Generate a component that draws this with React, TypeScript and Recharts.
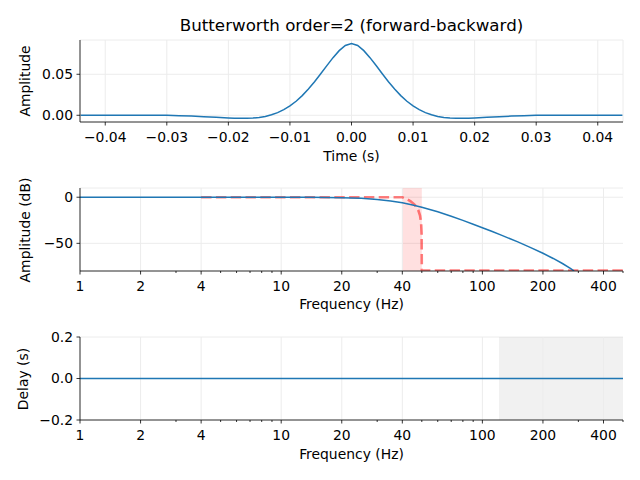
import React from "react"
import {
  CartesianGrid,
  ComposedChart,
  Line,
  ReferenceArea,
  ReferenceLine,
  XAxis,
  YAxis,
} from "recharts"

// impulse response (time in s, amplitude)
const impulseTime = [
  -0.044, -0.04, -0.036, -0.034, -0.032, -0.03, -0.028, -0.026, -0.024, -0.022, -0.02, -0.019, -0.018,
  -0.017, -0.016, -0.015, -0.014, -0.013, -0.012, -0.011, -0.01, -0.009, -0.008, -0.007, -0.006, -0.005,
  -0.004, -0.003, -0.002, -0.001, 0, 0.001, 0.002, 0.003, 0.004, 0.005, 0.006, 0.007, 0.008, 0.009, 0.01,
  0.011, 0.012, 0.013, 0.014, 0.015, 0.016, 0.017, 0.018, 0.019, 0.02, 0.022, 0.024, 0.026, 0.028, 0.03,
  0.032, 0.034, 0.036, 0.04, 0.044,
]
const impulseAmp = [
  0, 0, 0.0001, 0.0001, 0.0001, -0.0001, -0.0005, -0.001, -0.0017, -0.0025, -0.0033, -0.0036, -0.0037,
  -0.0037, -0.0034, -0.0026, -0.0014, 0.0006, 0.0032, 0.0069, 0.0114, 0.0171, 0.024, 0.032, 0.0409, 0.0506,
  0.0606, 0.0703, 0.0788, 0.0851, 0.0875, 0.0851, 0.0788, 0.0703, 0.0606, 0.0506, 0.0409, 0.032, 0.024,
  0.0171, 0.0114, 0.0069, 0.0032, 0.0006, -0.0014, -0.0026, -0.0034, -0.0037, -0.0037, -0.0036, -0.0033,
  -0.0025, -0.0017, -0.001, -0.0005, -0.0001, 0.0001, 0.0001, 0.0001, 0, 0,
]

// magnitude response (Hz, dB)
const respFreq = [1, 2, 4, 7, 10, 14, 20, 25, 30, 35, 40, 45, 50, 60, 70, 80, 90, 100, 112, 125, 150, 175, 200, 225, 250, 275, 286]
const respDb = [0, 0, 0, -0.01, -0.03, -0.13, -0.52, -1.22, -2.37, -3.99, -6.02, -8.34, -10.81, -15.85, -20.67, -25.14, -29.25, -33.02, -37.16, -41.33, -48.47, -54.88, -60.79, -66.4, -71.88, -77.36, -80]

// ideal (desired) response
const idealFreq = [4, 40, 42, 44, 46, 47, 48, 49, 49.6, 49.9, 50, 500]
const idealDb = [0, 0, -1.9, -4.4, -8.0, -10.5, -14, -20, -28, -40, -79.5, -79.5]

// group delay (Hz, s)
const delayFreq = [1, 500]
const delaySec = [0, 0]

const transBand = [40, 50]
const delayShade = [121, 500]

const timeTicks = [-0.04, -0.03, -0.02, -0.01, 0, 0.01, 0.02, 0.03, 0.04]
const ampTicks = [0, 0.05]
const freqMajor = [1, 2, 4, 10, 20, 40, 100, 200, 400]
const freqMinor = [3, 5, 6, 7, 8, 9, 30, 50, 60, 70, 80, 90, 300, 500]
const dbTicks = [-50, 0]
const delayTicks = [-0.2, 0, 0.2]

const impulseData = impulseTime.map((t, i) => ({ t, v: impulseAmp[i] }))
const respData = respFreq.map((f, i) => ({ f, v: respDb[i] }))
const idealData = idealFreq.map((f, i) => ({ f, v: idealDb[i] }))
const delayData = delayFreq.map((f, i) => ({ f, v: delaySec[i] }))
const freqTicks = [...freqMajor, ...freqMinor].sort((a, b) => a - b)

const FONT = "DejaVu Sans, sans-serif"
const FS = 13.9
const BLUE = "#1f77b4"
const GRID = "#ececec"
const tickStyle = { fill: "#000", fontSize: FS, fontFamily: FONT }

const minus = (s: string) => s.replace("-", "\u2212")

function TimeTick(props: any) {
  const { x, y, payload } = props
  return (
    <text x={x} y={y} dy="0.93em" textAnchor="middle" {...tickStyle}>
      {minus(payload.value.toFixed(2))}
    </text>
  )
}

function LogTick(props: any) {
  const { x, y, payload } = props
  const major = freqMajor.includes(payload.value)
  return (
    <g>
      <line x1={x} x2={x} y1={y} y2={y + (major ? 3.5 : 2)} stroke="#000" strokeWidth={0.8} />
      {major && (
        <text x={x} y={y + 7} dy="0.93em" textAnchor="middle" {...tickStyle}>
          {payload.value}
        </text>
      )}
    </g>
  )
}

function Overlay({ x, y, text, rotate, size }: { x: number; y: number; text: string; rotate?: boolean; size?: number }) {
  return (
    <div
      style={{
        position: "absolute",
        left: x,
        top: y,
        transform: `translate(-50%, -50%)${rotate ? " rotate(-90deg)" : ""}`,
        fontFamily: FONT,
        fontSize: size ?? FS,
        whiteSpace: "nowrap",
        lineHeight: 1,
        color: "#000",
      }}
    >
      {text}
    </div>
  )
}

function FreqPanel({ top, height, mt, children, yTicks, yDomain, yFmt }: any) {
  return (
    <div style={{ position: "absolute", left: 0, top }}>
      <ComposedChart width={640} height={height} margin={{ top: mt, right: 17, bottom: 0, left: 0 }}>
        <XAxis
          xAxisId={0}
          dataKey="f"
          type="number"
          scale="log"
          domain={[1, 500]}
          allowDataOverflow
          ticks={freqTicks}
          interval={0}
          tickSize={0}
          tickMargin={0}
          tickLine={false}
          tick={<LogTick />}
          height={height - mt - 83}
          axisLine={{ stroke: "#000", strokeWidth: 0.8 }}
        />
        <YAxis
          yAxisId={0}
          type="number"
          domain={yDomain}
          allowDataOverflow
          ticks={yTicks}
          interval={0}
          width={80}
          tickSize={3.5}
          tickMargin={3.5}
          tick={tickStyle}
          tickFormatter={yFmt}
          tickLine={{ stroke: "#000", strokeWidth: 0.8 }}
          axisLine={{ stroke: "#000", strokeWidth: 0.8 }}
        />
        <CartesianGrid vertical={false} stroke={GRID} strokeWidth={1} />
        {freqMajor.map((f) => (
          <ReferenceLine key={f} x={f} stroke={GRID} strokeWidth={1} />
        ))}
        {children}
      </ComposedChart>
    </div>
  )
}

export default function App() {
  return (
    <div style={{ position: "absolute", left: 0, top: 0, width: 640, height: 480, background: "#fff", overflow: "hidden" }}>
      <div style={{ position: "absolute", left: 0, top: 0 }}>
        <ComposedChart width={640} height={160} margin={{ top: 40, right: 17, bottom: 0, left: 0 }}>
          <XAxis
            dataKey="t"
            type="number"
            domain={[-0.0441, 0.0441]}
            allowDataOverflow
            ticks={timeTicks}
            interval={0}
            height={38}
            tickSize={3.5}
            tickMargin={3.5}
            tick={<TimeTick />}
            tickLine={{ stroke: "#000", strokeWidth: 0.8 }}
            axisLine={{ stroke: "#000", strokeWidth: 0.8 }}
          />
          <YAxis
            type="number"
            domain={[-0.0082, 0.0918]}
            allowDataOverflow
            ticks={ampTicks}
            interval={0}
            width={80}
            tickSize={3.5}
            tickMargin={3.5}
            tick={tickStyle}
            tickFormatter={(v: number) => v.toFixed(2)}
            tickLine={{ stroke: "#000", strokeWidth: 0.8 }}
            axisLine={{ stroke: "#000", strokeWidth: 0.8 }}
          />
          <CartesianGrid stroke={GRID} strokeWidth={1} />
          <Line
            data={impulseData}
            dataKey="v"
            type="linear"
            stroke={BLUE}
            strokeWidth={1.5}
            dot={false}
            isAnimationActive={false}
          />
        </ComposedChart>
      </div>

      <FreqPanel top={160} height={150} mt={28} yTicks={dbTicks} yDomain={[-80, 10]} yFmt={(v: number) => minus(String(v))}>
        <ReferenceArea x1={transBand[0]} x2={transBand[1]} fill="#ff0000" fillOpacity={0.12} stroke="none" />
        <Line
          data={idealData}
          dataKey="v"
          type="linear"
          stroke="#ff0000"
          strokeOpacity={0.5}
          strokeWidth={2.6}
          strokeDasharray="10.4 4.4"
          dot={false}
          isAnimationActive={false}
        />
        <Line
          data={respData}
          dataKey="v"
          type="linear"
          stroke={BLUE}
          strokeWidth={1.5}
          dot={false}
          isAnimationActive={false}
        />
      </FreqPanel>

      <FreqPanel top={310} height={170} mt={27} yTicks={delayTicks} yDomain={[-0.2, 0.2]} yFmt={(v: number) => minus(v.toFixed(1))}>
        <ReferenceArea x1={delayShade[0]} x2={delayShade[1]} fill="#bfbfbf" fillOpacity={0.22} stroke="none" />
        <Line
          data={delayData}
          dataKey="v"
          type="linear"
          stroke={BLUE}
          strokeWidth={1.5}
          dot={false}
          isAnimationActive={false}
        />
      </FreqPanel>

      <Overlay x={351.5} y={25} text="Butterworth order=2 (forward-backward)" size={16.7} />
      <Overlay x={26} y={81} text="Amplitude" rotate />
      <Overlay x={351.5} y={157} text="Time (s)" />
      <Overlay x={26} y={229.5} text="Amplitude (dB)" rotate />
      <Overlay x={351.5} y={305} text="Frequency (Hz)" />
      <Overlay x={24} y={378.5} text="Delay (s)" rotate />
      <Overlay x={351.5} y={455} text="Frequency (Hz)" />
    </div>
  )
}
